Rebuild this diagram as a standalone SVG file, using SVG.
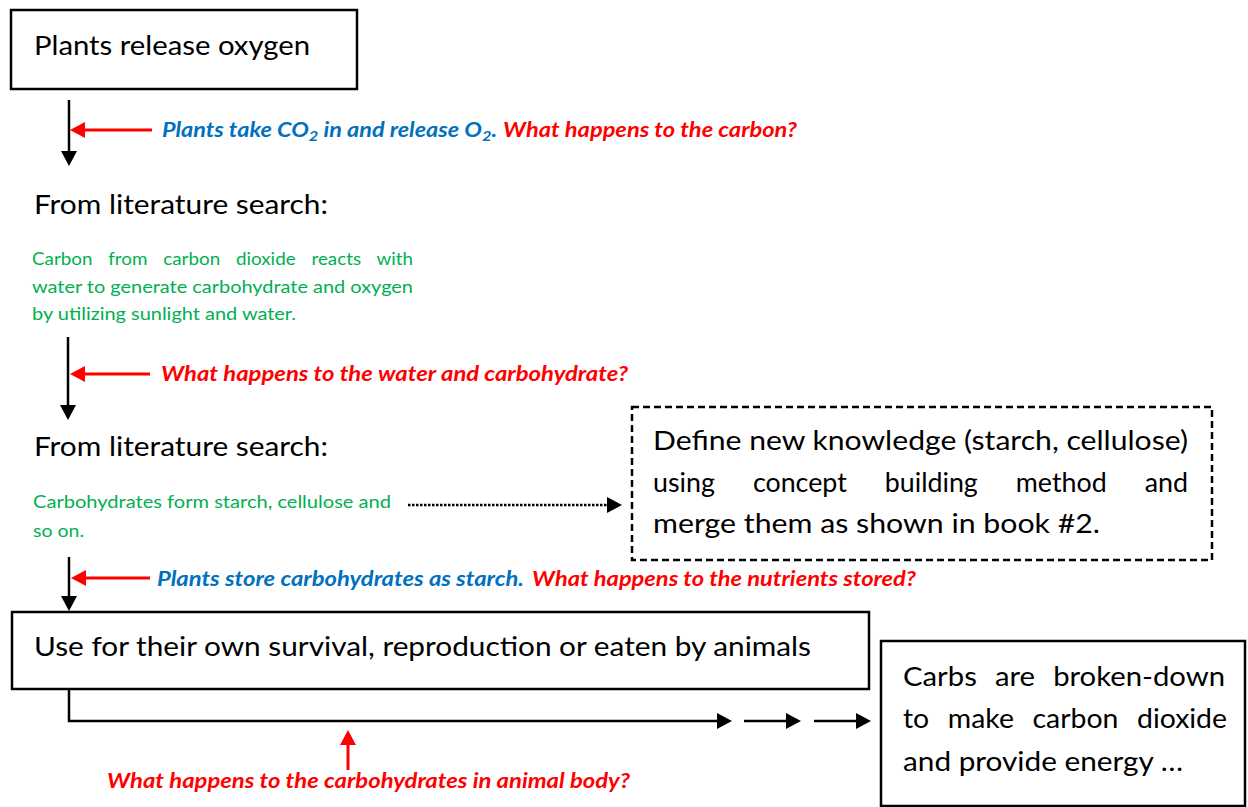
<svg xmlns="http://www.w3.org/2000/svg" width="1248" height="807" viewBox="0 0 1248 807">
<style>
.box{fill:#fff;stroke:#000;stroke-width:2.5}
.dbox{fill:#fff;stroke:#000;stroke-width:2.5;stroke-dasharray:7 4}
.t{font-family:Lato,"Liberation Sans",sans-serif;font-size:27.5px;fill:#000}
.g{font-family:Lato,"Liberation Sans",sans-serif;font-size:17px;fill:#00B050}
.q{font-family:Lato,"Liberation Sans",sans-serif;font-size:20px;font-weight:bold;font-style:italic}
.red{fill:#FF0000}
.blue{fill:#0070C0}
.bl{stroke:#000;stroke-width:2.5;fill:none}
.rl{stroke:#FF0000;stroke-width:3;fill:none}
</style>
<defs>
<marker id="ab" viewBox="0 -8 15 16" refX="0" refY="0" markerWidth="15" markerHeight="16" markerUnits="userSpaceOnUse" orient="auto"><path d="M0,-8 L15,0 L0,8 z" fill="#000"/></marker>
<marker id="ar" viewBox="0 -8 15 16" refX="0" refY="0" markerWidth="15" markerHeight="16" markerUnits="userSpaceOnUse" orient="auto"><path d="M0,-8 L15,0 L0,8 z" fill="#FF0000"/></marker>
</defs>
<rect width="1248" height="807" fill="#fff"/>

<g id="connectors">
<line class="bl" x1="69" y1="100" x2="69" y2="151" marker-end="url(#ab)"/>
<line class="rl" x1="152" y1="130" x2="85" y2="130" marker-end="url(#ar)"/>
<line class="bl" x1="68" y1="337" x2="68" y2="405" marker-end="url(#ab)"/>
<line class="rl" x1="150" y1="374" x2="85" y2="374" marker-end="url(#ar)"/>
<line class="bl" x1="69" y1="557" x2="69" y2="596" marker-end="url(#ab)"/>
<line class="rl" x1="150" y1="578" x2="86" y2="578" marker-end="url(#ar)"/>
<line class="bl" x1="408" y1="505" x2="607" y2="505" stroke-dasharray="2.5 1.5" stroke-width="3" marker-end="url(#ab)"/>
<path class="bl" d="M69,690 V721 H717" marker-end="url(#ab)"/>
<line class="bl" x1="744" y1="721" x2="786" y2="721" marker-end="url(#ab)"/>
<line class="bl" x1="814" y1="721" x2="856" y2="721" marker-end="url(#ab)"/>
<line class="rl" x1="348" y1="770" x2="348" y2="745" marker-end="url(#ar)"/>
</g>

<g id="label1">
<text class="q blue" x="162" y="137" textLength="335" lengthAdjust="spacingAndGlyphs">Plants take CO<tspan font-size="14" dy="4">2</tspan><tspan dy="-4"> in and release O</tspan><tspan font-size="14" dy="4">2</tspan><tspan dy="-4">.</tspan></text>
<text class="q red" x="503" y="137" textLength="294" lengthAdjust="spacingAndGlyphs">What happens to the carbon?</text>
</g>
<g id="label2">
<text class="q red" x="161" y="381" textLength="467" lengthAdjust="spacingAndGlyphs">What happens to the water and carbohydrate?</text>
</g>
<g id="label3">
<text class="q blue" x="157" y="586" textLength="367" lengthAdjust="spacingAndGlyphs">Plants store carbohydrates as starch.</text>
<text class="q red" x="532" y="586" textLength="384" lengthAdjust="spacingAndGlyphs">What happens to the nutrients stored?</text>
</g>
<g id="label4">
<text class="q red" x="107" y="788" textLength="523" lengthAdjust="spacingAndGlyphs">What happens to the carbohydrates in animal body?</text>
</g>

<g id="node-plants-release-oxygen">
<rect class="box" x="11" y="10" width="346" height="79"/>
<text class="t" x="34" y="55" textLength="276" lengthAdjust="spacingAndGlyphs">Plants release oxygen</text>
</g>

<g id="node-literature-1">
<text class="t" x="34" y="214" textLength="294" lengthAdjust="spacingAndGlyphs">From literature search:</text>
<text class="g" x="32" y="265" word-spacing="10" textLength="381" lengthAdjust="spacingAndGlyphs">Carbon from carbon dioxide reacts with</text>
<text class="g" x="32" y="293" textLength="381" lengthAdjust="spacingAndGlyphs">water to generate carbohydrate and oxygen</text>
<text class="g" x="32" y="320" textLength="264" lengthAdjust="spacingAndGlyphs">by utilizing sunlight and water.</text>
</g>

<g id="node-literature-2">
<text class="t" x="34" y="456" textLength="294" lengthAdjust="spacingAndGlyphs">From literature search:</text>
<text class="g" x="33" y="508" textLength="358" lengthAdjust="spacingAndGlyphs">Carbohydrates form starch, cellulose and</text>
<text class="g" x="33" y="537" textLength="51" lengthAdjust="spacingAndGlyphs">so on.</text>
</g>

<g id="node-define-knowledge">
<rect class="dbox" x="632" y="407" width="580" height="153"/>
<text class="t" x="653" y="450" textLength="535" lengthAdjust="spacingAndGlyphs">Define new knowledge (starch, cellulose)</text>
<text class="t" x="653" y="492" word-spacing="32" textLength="535" lengthAdjust="spacingAndGlyphs">using concept building method and</text>
<text class="t" x="653" y="533" textLength="447" lengthAdjust="spacingAndGlyphs">merge them as shown in book #2.</text>
</g>

<g id="node-use">
<rect class="box" x="12" y="612" width="857" height="77"/>
<text class="t" x="34" y="656" textLength="777" lengthAdjust="spacingAndGlyphs">Use for their own survival, reproduction or eaten by animals</text>
</g>

<g id="node-carbs">
<rect class="box" x="881" y="641" width="364" height="165"/>
<text class="t" x="903" y="686" word-spacing="10" textLength="322" lengthAdjust="spacingAndGlyphs">Carbs are broken-down</text>
<text class="t" x="903" y="728" word-spacing="11" textLength="324" lengthAdjust="spacingAndGlyphs">to make carbon dioxide</text>
<text class="t" x="903" y="771" textLength="280" lengthAdjust="spacingAndGlyphs">and provide energy …</text>
</g>
</svg>
